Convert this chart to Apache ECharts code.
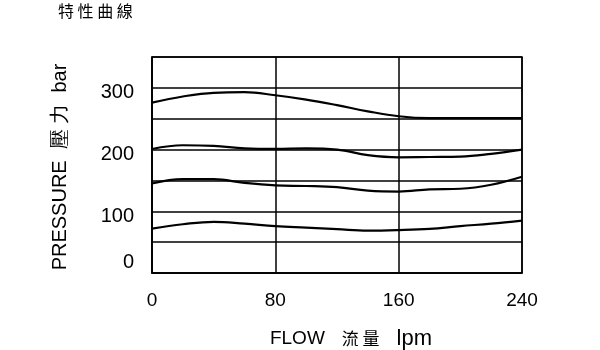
<!DOCTYPE html>
<html><head><meta charset="utf-8">
<script src="https://cdn.jsdelivr.net/npm/echarts@6/dist/echarts.min.js"></script>
<style>html,body{margin:0;padding:0;background:#fff}#c{width:600px;height:350px}</style>
</head><body><div id="c"></div>
<script>
var flow = [0, 20, 40, 60, 80, 100, 120, 140, 160, 180, 200, 220, 240];
var curveA = [276, 286, 292, 293, 288, 281, 272, 262, 254, 251, 251, 251, 251];
var curveB = [201, 207, 206, 202, 201, 202, 200, 191, 187.5, 188, 188.5, 193, 200];
var curveC = [145, 152, 152, 146, 142, 141, 139, 133.5, 132, 135.5, 136.5, 143, 156];
var curveD = [72, 79, 83, 80, 76, 73.5, 71, 68.6, 69.5, 71.5, 76, 80, 85];
var xTicks = [0, 80, 160, 240];
var yTicks = [0, 100, 200, 300];

function pairs(ys){ return flow.map(function(x,i){ return [x, ys[i]]; }); }
var FONT = '"Liberation Sans", Arial, sans-serif';
var chart = echarts.init(document.getElementById('c'));
var lineStyle = {color:'#000', width:2.2};
chart.setOption({
  animation:false,
  title:{text:'特 性 曲 線', left:53, top:-2, textStyle:{fontSize:16, fontWeight:'normal', color:'#000', fontFamily:'"Noto Sans CJK TC", sans-serif'}},
  grid:{left:152, right:78, top:57, bottom:77, show:true, borderColor:'#000', borderWidth:1.5, outerBoundsMode:'none', containLabel:false},
  xAxis:{type:'value', min:0, max:240, interval:80,
    name:'{f|FLOW}{c|流 量}{l|lpm}', nameLocation:'middle', nameGap:55,
    nameTextStyle:{fontSize:19, color:'#000', fontFamily:FONT, padding:[0,0,0,28],
      rich:{f:{fontSize:19, color:'#000', fontFamily:FONT},
            c:{fontSize:17, color:'#000', fontFamily:'"Noto Sans CJK TC", sans-serif', padding:[0,17,0,17]},
            l:{fontSize:22, color:'#000', fontFamily:FONT}}},
    axisLine:{lineStyle:{color:'#000', width:1.5}}, axisTick:{show:false},
    axisLabel:{fontSize:19, color:'#000', fontFamily:FONT, margin:18,
      formatter:function(v){ return xTicks.indexOf(v)>=0 ? String(v) : ''; }},
    splitLine:{show:true, lineStyle:{color:'#000', width:1.5}}},
  yAxis:{type:'value', min:0, max:350, interval:50,
    name:'PRESSURE  壓 力  bar', nameLocation:'middle', nameGap:82, nameRotate:90,
    nameTextStyle:{fontSize:20, color:'#000', fontFamily:FONT, padding:[0,0,0,-4]},
    axisLine:{lineStyle:{color:'#000', width:1.5}}, axisTick:{show:false},
    axisLabel:{fontSize:20, color:'#000', fontFamily:FONT, margin:18,
      formatter:function(v){
        if (v===0) return '{z|0}';
        return yTicks.indexOf(v)>=0 ? '{a|'+v+'}' : '';
      },
      rich:{a:{fontSize:20, color:'#000', fontFamily:FONT, padding:[10,0,0,0]},
            z:{fontSize:20, color:'#000', fontFamily:FONT, padding:[0,0,22,0]}}},
    splitLine:{show:true, lineStyle:{color:'#000', width:1.5}}},
  series:[curveA, curveB, curveC, curveD].map(function(d){
    return {type:'line', data:pairs(d), smooth:0.4, showSymbol:false, lineStyle:lineStyle};
  })
});
</script></body></html>
